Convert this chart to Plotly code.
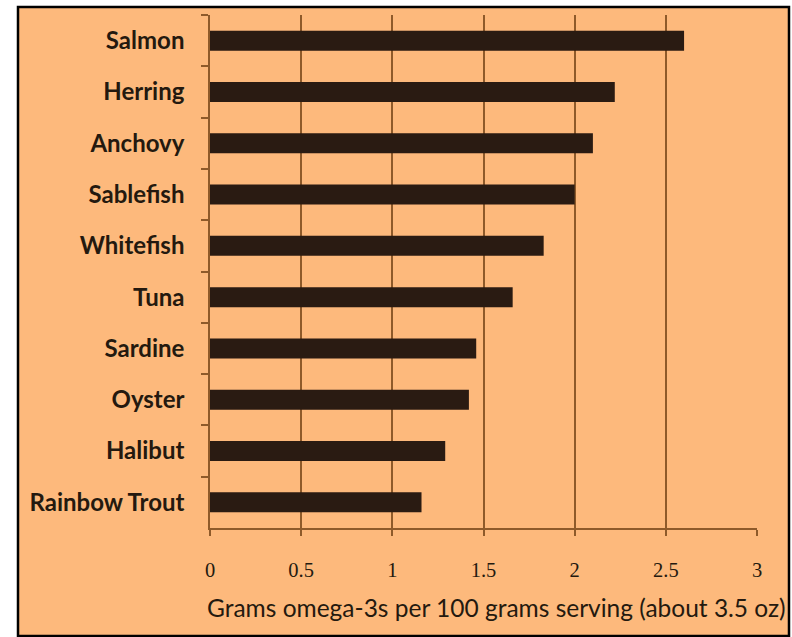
import plotly.graph_objects as go

# Omega-3 content by fish, grams per 100 g serving
fish = ["Salmon", "Herring", "Anchovy", "Sablefish", "Whitefish",
        "Tuna", "Sardine", "Oyster", "Halibut", "Rainbow Trout"]
omega3 = [2.60, 2.22, 2.10, 2.00, 1.83, 1.66, 1.46, 1.42, 1.29, 1.16]

x_ticks = [0, 0.5, 1, 1.5, 2, 2.5, 3]
x_tick_text = ["0", "0.5", "1", "1.5", "2", "2.5", "3"]
x_title = "Grams omega-3s per 100 grams serving (about 3.5 oz)"

PEACH = "#FDB97C"
BAR = "#2A1B12"
GRID = "#8E5A2A"
TEXT = "#24190F"

W, H = 792, 637
L, R, T, B = 210, 35, 15, 109
pw, ph = W - L - R, H - T - B


def px_to_paper_x(px):
    return (px - L) / pw


def px_to_paper_y(py):
    return (H - B - py) / ph


fig = go.Figure(go.Bar(
    x=omega3,
    y=fish,
    orientation="h",
    marker=dict(color=BAR, line=dict(width=0)),
    hoverinfo="x+y",
))

fig.update_layout(
    width=W,
    height=H,
    margin=dict(l=L, r=R, t=T, b=B, pad=0),
    paper_bgcolor="white",
    plot_bgcolor="rgba(0,0,0,0)",
    bargap=0.61,
    showlegend=False,
    shapes=[
        dict(
            type="rect", xref="paper", yref="paper", layer="below",
            x0=px_to_paper_x(18), x1=px_to_paper_x(789),
            y0=px_to_paper_y(636), y1=px_to_paper_y(7),
            fillcolor=PEACH, line=dict(color="black", width=2.5),
        )
    ],
    annotations=[
        dict(
            text=x_title, xref="paper", yref="paper",
            x=px_to_paper_x(496), y=px_to_paper_y(607),
            xanchor="center", yanchor="middle", showarrow=False,
            font=dict(family="Lato", size=24.5, color=TEXT),
        )
    ],
)

fig.update_xaxes(
    range=[0, 3],
    tickvals=x_ticks,
    ticktext=x_tick_text,
    showgrid=True,
    gridcolor=GRID,
    gridwidth=2,
    zeroline=False,
    showline=True,
    linecolor=GRID,
    linewidth=1.5,
    ticks="outside",
    ticklen=6,
    tickcolor=GRID,
    tickwidth=1.5,
    ticklabelstandoff=17,
    tickfont=dict(family="Liberation Serif", size=20.5, color=TEXT),
)

fig.update_yaxes(
    type="category",
    categoryorder="array",
    categoryarray=fish,
    autorange="reversed",
    showgrid=False,
    zeroline=False,
    showline=True,
    linecolor=GRID,
    linewidth=1.5,
    ticks="outside",
    tickson="boundaries",
    ticklen=7,
    tickcolor=GRID,
    tickwidth=1.5,
    ticklabelstandoff=19,
    tickfont=dict(family="Lato", size=24, color=TEXT, weight="bold"),
)

fig.write_html("out.html")
